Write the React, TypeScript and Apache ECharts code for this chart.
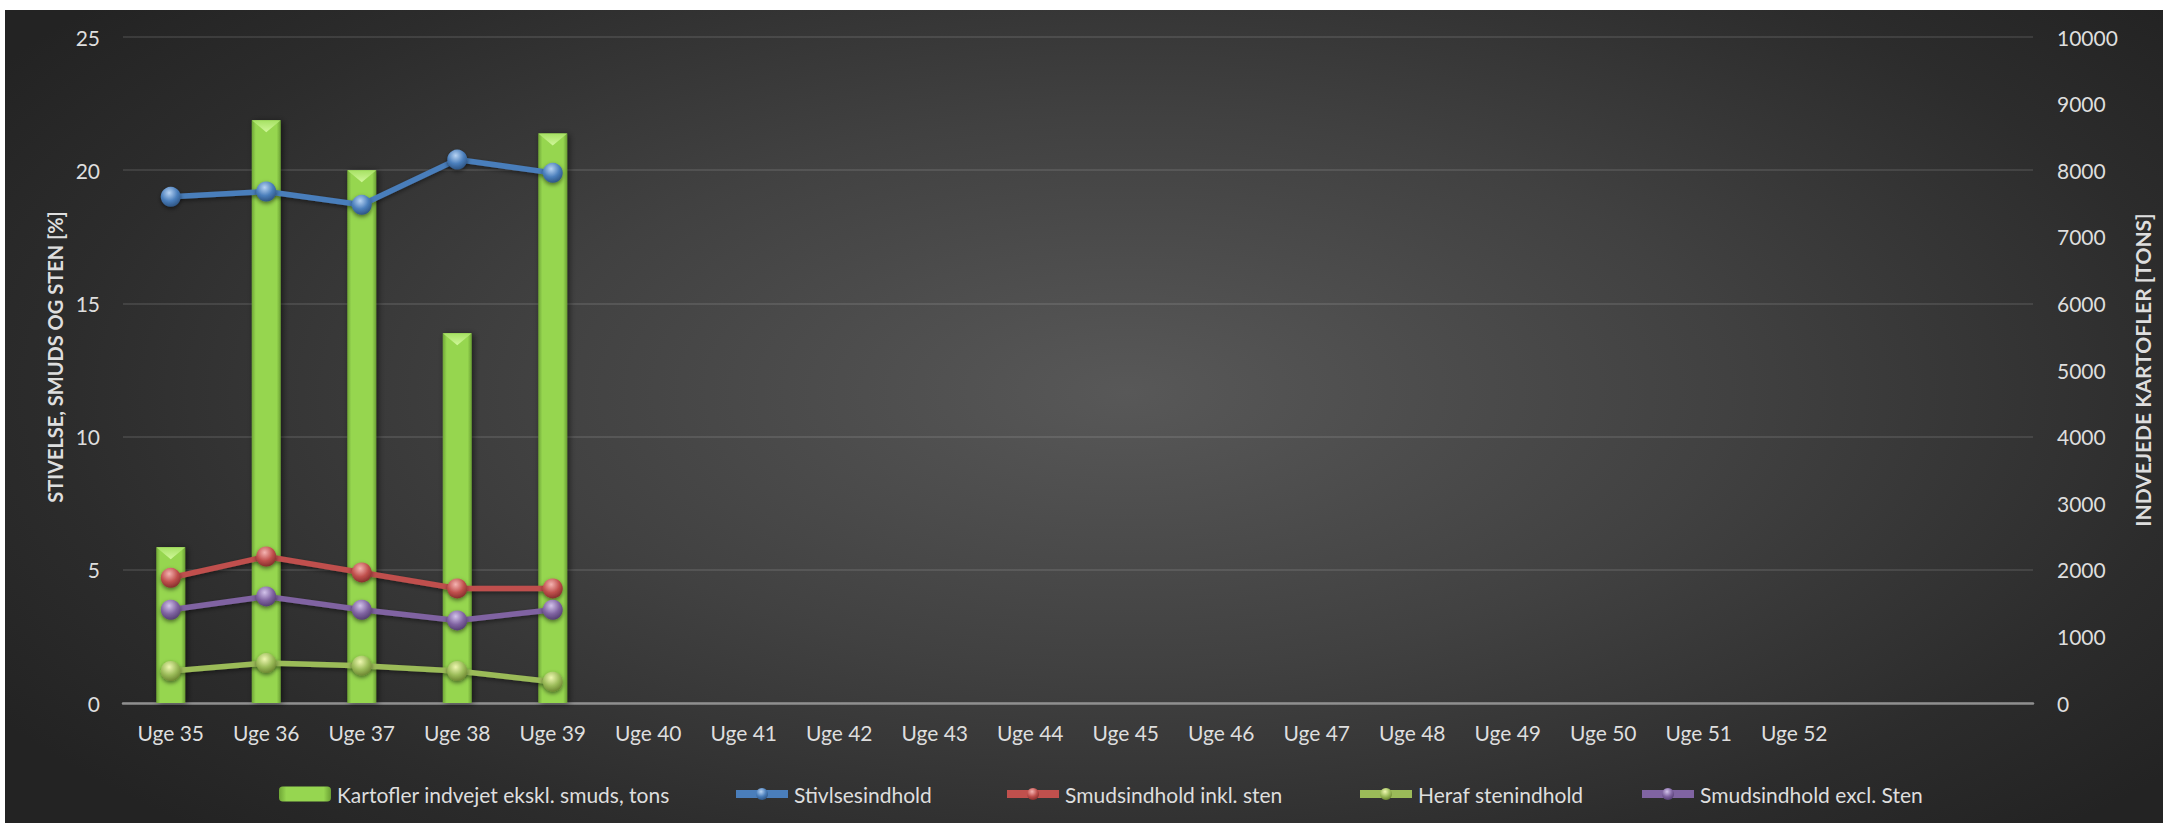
import React, { useEffect, useRef } from "react";
import * as echarts from "echarts";

const categories = [
  "Uge 35", "Uge 36", "Uge 37", "Uge 38", "Uge 39", "Uge 40", "Uge 41", "Uge 42", "Uge 43",
  "Uge 44", "Uge 45", "Uge 46", "Uge 47", "Uge 48", "Uge 49", "Uge 50", "Uge 51", "Uge 52", " ", "  ",
];
const kartoflerTons = [2340, 8750, 8000, 5550, 8550];
const stivelse = [19.0, 19.2, 18.7, 20.4, 19.9];
const smudsInkl = [4.7, 5.5, 4.9, 4.3, 4.3];
const sten = [1.2, 1.5, 1.4, 1.2, 0.8];
const smudsExcl = [3.5, 4.0, 3.5, 3.1, 3.5];

const leftTicks = { min: 0, max: 25, interval: 5 };
const rightTicks = { min: 0, max: 10000, interval: 1000 };

const names = [
  "Kartofler indvejet ekskl. smuds, tons",
  "Stivlsesindhold",
  "Smudsindhold inkl. sten",
  "Heraf stenindhold",
  "Smudsindhold excl. Sten",
];

const FONT = "Lato, 'Noto Sans', sans-serif";
const TXT = "#dedede";

function sphere(light: string, base: string, dark: string) {
  return {
    type: "radial",
    x: 0.42,
    y: 0.3,
    r: 0.75,
    colorStops: [
      { offset: 0, color: light },
      { offset: 0.55, color: base },
      { offset: 1, color: dark },
    ],
  };
}

function lineSeries(name: string, data: number[], color: string, light: string, dark: string) {
  return {
    name,
    type: "line",
    yAxisIndex: 0,
    data,
    symbol: "circle",
    symbolSize: 20,
    z: 5,
    lineStyle: {
      color,
      width: 5.5,
      shadowBlur: 4,
      shadowColor: "rgba(0,0,0,0.45)",
      shadowOffsetY: 2,
    },
    itemStyle: {
      color: sphere(light, color, dark),
      borderWidth: 0,
      shadowBlur: 4,
      shadowColor: "rgba(0,0,0,0.5)",
      shadowOffsetY: 2,
    },
  };
}

const legendLefts = [269, 722, 993, 1346, 1628];

export default function App() {
  const ref = useRef<HTMLDivElement>(null);
  useEffect(() => {
    if (!ref.current) return;
    const chart = echarts.init(ref.current, null, { renderer: "svg" });
    const barGradient = {
      type: "linear",
      x: 0,
      y: 0,
      x2: 1,
      y2: 0,
      colorStops: [
        { offset: 0, color: "#6fa636" },
        { offset: 0.14, color: "#96d650" },
        { offset: 0.86, color: "#96d650" },
        { offset: 1, color: "#6a9f33" },
      ],
    };
    const option: any = {
      animation: false,
      backgroundColor: "transparent",
      textStyle: { fontFamily: FONT },
      grid: { left: 118, top: 27, width: 1910, height: 666 },
      legend: names.map((n, i) => ({
        data: [n],
        left: legendLefts[i],
        top: 767,
        itemWidth: 52,
        itemHeight: 15,
        itemGap: 0,
        selectedMode: false,
        lineStyle: { width: 8 },
        textStyle: { color: TXT, fontSize: 21, fontFamily: FONT, lineHeight: 24, padding: [0, 0, 0, 1] },
      })),
      xAxis: {
        type: "category",
        data: categories,
        boundaryGap: true,
        axisLine: { show: true, lineStyle: { color: "#8f8f8f", width: 2.5 } },
        axisTick: { show: false },
        axisLabel: { interval: 0, color: TXT, fontSize: 21, fontFamily: FONT, margin: 19 },
        splitLine: { show: false },
      },
      yAxis: [
        {
          type: "value",
          position: "left",
          min: leftTicks.min,
          max: leftTicks.max,
          interval: leftTicks.interval,
          axisLine: { show: false },
          axisTick: { show: false },
          axisLabel: { color: TXT, fontSize: 21, fontFamily: FONT, margin: 23 },
          splitLine: { show: true, lineStyle: { color: "rgba(255,255,255,0.1)", width: 2 } },
        },
        {
          type: "value",
          position: "right",
          min: rightTicks.min,
          max: rightTicks.max,
          interval: rightTicks.interval,
          axisLine: { show: false },
          axisTick: { show: false },
          axisLabel: {
            color: TXT,
            fontSize: 21,
            fontFamily: FONT,
            margin: 24,
            formatter: (v: number) => String(v),
          },
          splitLine: { show: false },
        },
      ],
      series: [
        {
          name: names[0],
          type: "bar",
          yAxisIndex: 1,
          data: kartoflerTons,
          barWidth: 29,
          barGap: "-100%",
          z: 2,
          itemStyle: {
            color: barGradient,
            shadowBlur: 6,
            shadowColor: "rgba(0,0,0,0.55)",
            shadowOffsetX: 2,
            shadowOffsetY: 1,
          },
        },
        {
          name: "bevel",
          type: "pictorialBar",
          yAxisIndex: 1,
          data: kartoflerTons,
          barWidth: 29,
          barGap: "-100%",
          symbol: "triangle",
          symbolRotate: 180,
          symbolSize: [29, 12],
          symbolPosition: "end",
          z: 3,
          silent: true,
          itemStyle: {
            color: {
              type: "linear",
              x: 0,
              y: 0,
              x2: 0,
              y2: 1,
              colorStops: [
                { offset: 0, color: "#d0f79a" },
                { offset: 1, color: "#a6e163" },
              ],
            },
          },
        },
        lineSeries(names[1], stivelse, "#4a7ebb", "#b7d3f3", "#2a4f7c"),
        lineSeries(names[2], smudsInkl, "#c0504d", "#f4b3b1", "#7d2a28"),
        lineSeries(names[3], sten, "#9bbb59", "#eef7b0", "#667f2c"),
        lineSeries(names[4], smudsExcl, "#8064a2", "#d2c2ea", "#4f3a6b"),
      ],
      graphic: [
        {
          type: "text",
          x: 50,
          y: 347,
          rotation: Math.PI / 2,
          style: {
            text: "STIVELSE, SMUDS OG STEN [%]",
            fill: TXT,
            fontSize: 20,
            fontWeight: "bold",
            fontFamily: FONT,
            align: "center",
            verticalAlign: "middle",
          },
        },
        {
          type: "text",
          x: 2137,
          y: 360,
          rotation: Math.PI / 2,
          style: {
            text: "INDVEJEDE KARTOFLER [TONS]",
            fill: TXT,
            fontSize: 21,
            fontWeight: "bold",
            fontFamily: FONT,
            align: "center",
            verticalAlign: "middle",
          },
        },
      ],
    };
    chart.setOption(option);
    return () => chart.dispose();
  }, []);

  return (
    <div
      ref={ref}
      style={{
        position: "absolute",
        left: 5,
        top: 10,
        width: 2158,
        height: 813,
        background:
          "radial-gradient(ellipse 62% 75% at 52% 47%, #585858 0%, #414141 45%, #2c2c2c 80%, #232323 100%)",
      }}
    />
  );
}
